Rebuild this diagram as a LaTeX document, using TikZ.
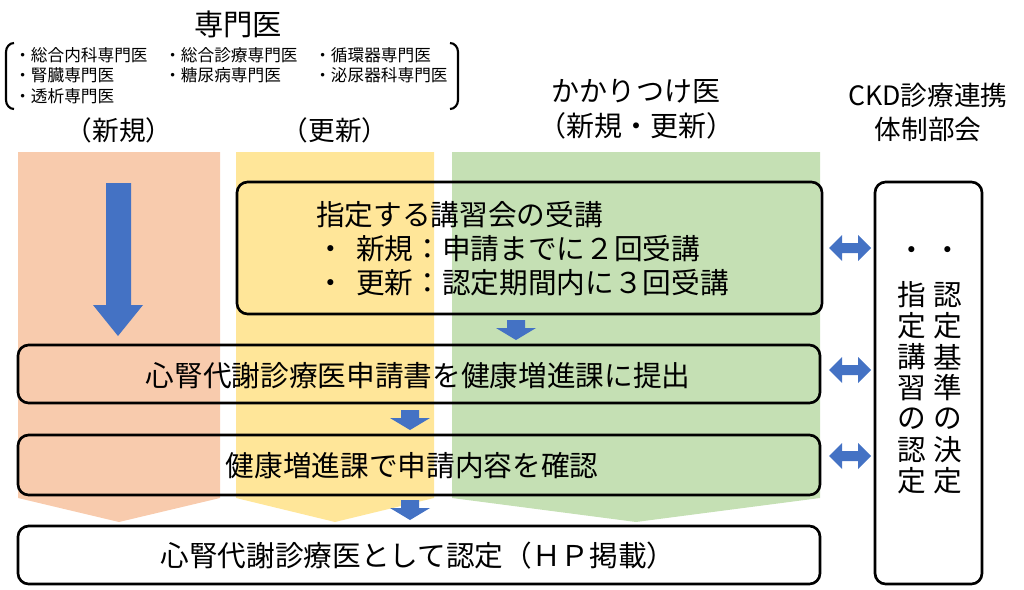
\documentclass[tikz,border=0pt]{standalone}
\usepackage{fontspec}
\setmainfont{Noto Sans CJK JP}
\usetikzlibrary{arrows.meta}
\definecolor{cor}{HTML}{F8CBAD}
\definecolor{cye}{HTML}{FFE699}
\definecolor{cgr}{HTML}{C5E0B4}
\definecolor{cbl}{HTML}{4472C4}
\newcommand{\fs}[1]{\fontsize{#1}{#1}\selectfont}
\begin{document}
\begin{tikzpicture}[x=0.75pt,y=-0.75pt,
  flowbox/.style={draw=black,line width=2pt,rounded corners=8pt},
  txt/.style={inner sep=0pt,font=\fs{21.5}}]
\useasboundingbox (0,0) rectangle (1024,589);
% columns
\fill[cor] (18,152) -- (220,152) -- (220,498) -- (119,522) -- (18,498) -- cycle;
\fill[cye] (236,152) -- (434,152) -- (434,498) -- (335,522) -- (236,498) -- cycle;
\fill[cgr] (452,152) -- (820,152) -- (820,498) -- (636,522) -- (452,498) -- cycle;
% header
\node[txt,font=\fs{22}] (hsp) at (238,24) {専門医};
\node[txt,font=\fs{12.5},anchor=west] (l1) at (14,55) {・総合内科専門医};
\node[txt,font=\fs{12.5},anchor=west] (l2) at (14,75) {・腎臓専門医};
\node[txt,font=\fs{12.5},anchor=west] (l3) at (14,96) {・透析専門医};
\node[txt,font=\fs{12.5},anchor=west] (l4) at (164,55) {・総合診療専門医};
\node[txt,font=\fs{12.5},anchor=west] (l5) at (164,75) {・糖尿病専門医};
\node[txt,font=\fs{12.5},anchor=west] (l6) at (314,55) {・循環器専門医};
\node[txt,font=\fs{12.5},anchor=west] (l7) at (314,75) {・泌尿器科専門医};
\draw[line width=1.6pt] (14,43) to[out=180,in=90] (6,52) -- (6,100) to[out=-90,in=180] (14,109);
\draw[line width=1.6pt] (450,43) to[out=0,in=90] (458,52) -- (458,100) to[out=-90,in=0] (450,109);
\node[txt,font=\fs{20}] (hnew) at (119,130) {（新規）};
\node[txt,font=\fs{20}] (hupd) at (335,130) {（更新）};
\node[txt,font=\fs{21}] (hk1) at (636,92) {かかりつけ医};
\node[txt,font=\fs{21}] (hk2) at (636,126) {（新規・更新）};
\node[txt,font=\fs{20}] (hc1) at (928,95) {CKD診療連携};
\node[txt,font=\fs{20}] (hc2) at (928,129) {体制部会};
% boxes
\draw[flowbox] (237,182) rectangle (822,314);
\node[txt,anchor=west,align=left] (t1) at (316,249) {指定する講習会の受講\\[4pt]・\ \,新規：申請までに２回受講\\[4pt]・\ \,更新：認定期間内に３回受講};
\draw[flowbox] (18,345) rectangle (820,403);
\node[txt] (t2) at (418,376) {心腎代謝診療医申請書を健康増進課に提出};
\draw[flowbox] (18,435) rectangle (820,495);
\node[txt] (t3) at (412,466) {健康増進課で申請内容を確認};
\draw[flowbox,fill=white] (18,526) rectangle (820,584);
\node[txt] (t4) at (418,556) {心腎代謝診療医として認定（ＨＰ掲載）};
\draw[flowbox] (875,182) rectangle (982,584);
\node[txt] (d1) at (912,254) {・};
\node[txt] (d2) at (948,254) {・};
\foreach \c [count=\i] in {認,定,基,準,の,決,定}
  \node[txt] (r\i) at (948,264+31*\i) {\c};
\foreach \c [count=\i] in {指,定,講,習,の,認,定}
  \node[txt] (q\i) at (912,264+31*\i) {\c};
% arrows
\fill[cbl] (106,183) -- (131,183) -- (131,305) -- (143,305) -- (118,336) -- (93,305) -- (106,305) -- cycle;
\foreach \x/\y in {516/320, 410/410, 410/500} {
  \fill[cbl] (\x-9,\y) -- (\x+9,\y) -- (\x+9,\y+8) -- (\x+20,\y+8) -- (\x,\y+20) -- (\x-20,\y+8) -- (\x-9,\y+8) -- cycle;
}
\foreach \y in {248, 370, 456} {
  \fill[cbl] (829,\y) -- (842,\y-13) -- (842,\y-5) -- (858,\y-5) -- (858,\y-13) -- (871,\y) -- (858,\y+13) -- (858,\y+5) -- (842,\y+5) -- (842,\y+13) -- cycle;
}
\end{tikzpicture}
\end{document}
